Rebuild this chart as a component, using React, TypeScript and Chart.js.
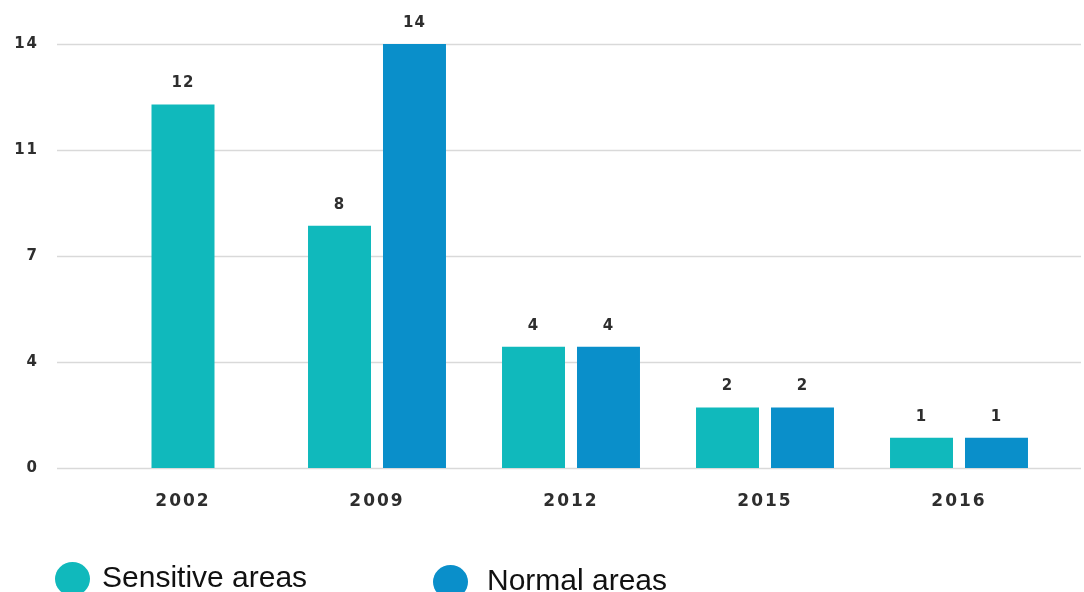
import React, { useEffect, useRef } from "react";
import { Chart, registerables } from "chart.js";

Chart.register(...registerables);

// Survey years and counts per area type
const categories = ["2002", "2009", "2012", "2015", "2016"];
const sensitiveAreas = [12, 8, 4, 2, 1];
const normalAreas: (number | null)[] = [null, 14, 4, 2, 1];

// Y axis: evenly spaced gridlines, labels shown rounded
const yTickValues = [0, 3.5, 7, 10.5, 14];
const yTickLabels = ["0", "4", "7", "11", "14"];

const seriesNames = ["Sensitive areas", "Normal areas"];
const seriesColors = ["#10b9bc", "#0a8fca"];

const W = 1084;
const H = 592;
const TEXT = "#2e2e2e";
const LABEL_FONT = "'DejaVu Sans', sans-serif";

// Horizontal gridlines that run past the plot area on both sides
const gridPlugin = {
  id: "wideGrid",
  beforeDatasetsDraw(chart: any) {
    const { ctx } = chart;
    const y = chart.scales.y;
    ctx.save();
    ctx.strokeStyle = "#d9d9d9";
    ctx.lineWidth = 1.6;
    y.ticks.forEach((t: any) => {
      const py = Math.round(y.getPixelForValue(t.value)) + 0.5;
      ctx.beginPath();
      ctx.moveTo(57, py);
      ctx.lineTo(1081, py);
      ctx.stroke();
    });
    ctx.restore();
  },
};

// Value labels above each bar
const valueLabelPlugin = {
  id: "valueLabels",
  afterDatasetsDraw(chart: any) {
    const { ctx } = chart;
    ctx.save();
    ctx.font = `bold 15px ${LABEL_FONT}`;
    ctx.fillStyle = TEXT;
    ctx.textAlign = "center";
    ctx.textBaseline = "middle";
    (ctx as any).letterSpacing = "1px";
    chart.data.datasets.forEach((ds: any, di: number) => {
      const meta = chart.getDatasetMeta(di);
      meta.data.forEach((el: any, i: number) => {
        const v = ds.data[i];
        if (v === null || v === undefined) return;
        ctx.fillText(String(v), el.x, el.y - 21);
      });
    });
    ctx.restore();
  },
};

// Slightly spaced lettering for axis labels
const spacingPlugin = {
  id: "letterSpacing",
  beforeDraw(chart: any) {
    (chart.ctx as any).letterSpacing = "2px";
  },
  afterDraw(chart: any) {
    (chart.ctx as any).letterSpacing = "0px";
  },
};

export default function App() {
  const canvasRef = useRef<HTMLCanvasElement | null>(null);

  useEffect(() => {
    if (!canvasRef.current) return;
    const chart = new Chart(canvasRef.current, {
      type: "bar",
      data: {
        labels: categories,
        datasets: [
          {
            label: seriesNames[0],
            data: sensitiveAreas,
            backgroundColor: seriesColors[0],
          },
          {
            label: seriesNames[1],
            data: normalAreas,
            backgroundColor: seriesColors[1],
          },
        ],
      },
      options: {
        responsive: false,
        animation: false,
        devicePixelRatio: 1,
        skipNull: true,
        categoryPercentage: 0.773,
        barPercentage: 0.84,
        maxBarThickness: 63,
        layout: { padding: { top: 44, right: 28, left: 0, bottom: 0 } },
        plugins: {
          legend: { display: false },
          tooltip: { enabled: false },
          title: { display: false },
        },
        scales: {
          x: {
            grid: { display: false, drawTicks: false },
            border: { display: false },
            ticks: {
              color: TEXT,
              font: { family: LABEL_FONT, size: 17, weight: "bold" },
              padding: 23,
            },
            afterFit(axis: any) {
              axis.height = 124;
            },
          },
          y: {
            min: 0,
            max: 14,
            grid: { display: false, drawTicks: false },
            border: { display: false },
            afterBuildTicks(axis: any) {
              axis.ticks = yTickValues.map((v) => ({ value: v }));
            },
            ticks: {
              color: TEXT,
              font: { family: LABEL_FONT, size: 15, weight: "bold" },
              padding: 47,
              callback: (_v: any, i: number) => yTickLabels[i],
            },
            afterFit(axis: any) {
              axis.width = 86;
              axis.paddingTop = 0;
              axis.paddingBottom = 0;
            },
          },
        },
      } as any,
      plugins: [spacingPlugin, gridPlugin, valueLabelPlugin],
    });
    return () => chart.destroy();
  }, []);

  const legendText: React.CSSProperties = {
    position: "absolute",
    fontFamily: "'Liberation Sans', Arial, sans-serif",
    fontSize: 30,
    lineHeight: "30px",
    color: "#111",
    whiteSpace: "nowrap",
  };
  const dot = (color: string, left: number, top: number): React.CSSProperties => ({
    position: "absolute",
    left,
    top,
    width: 35,
    height: 34,
    borderRadius: "50%",
    background: color,
  });

  return (
    <div
      style={{
        position: "fixed",
        left: 0,
        top: 0,
        width: W,
        height: H,
        overflow: "hidden",
        background: "#fff",
      }}
    >
      <canvas ref={canvasRef} width={W} height={H} style={{ display: "block" }} />
      <div style={dot(seriesColors[0], 55, 562)} />
      <div style={{ ...legendText, left: 102, top: 562 }}>{seriesNames[0]}</div>
      <div style={dot(seriesColors[1], 433, 565)} />
      <div style={{ ...legendText, left: 487, top: 565 }}>{seriesNames[1]}</div>
    </div>
  );
}
